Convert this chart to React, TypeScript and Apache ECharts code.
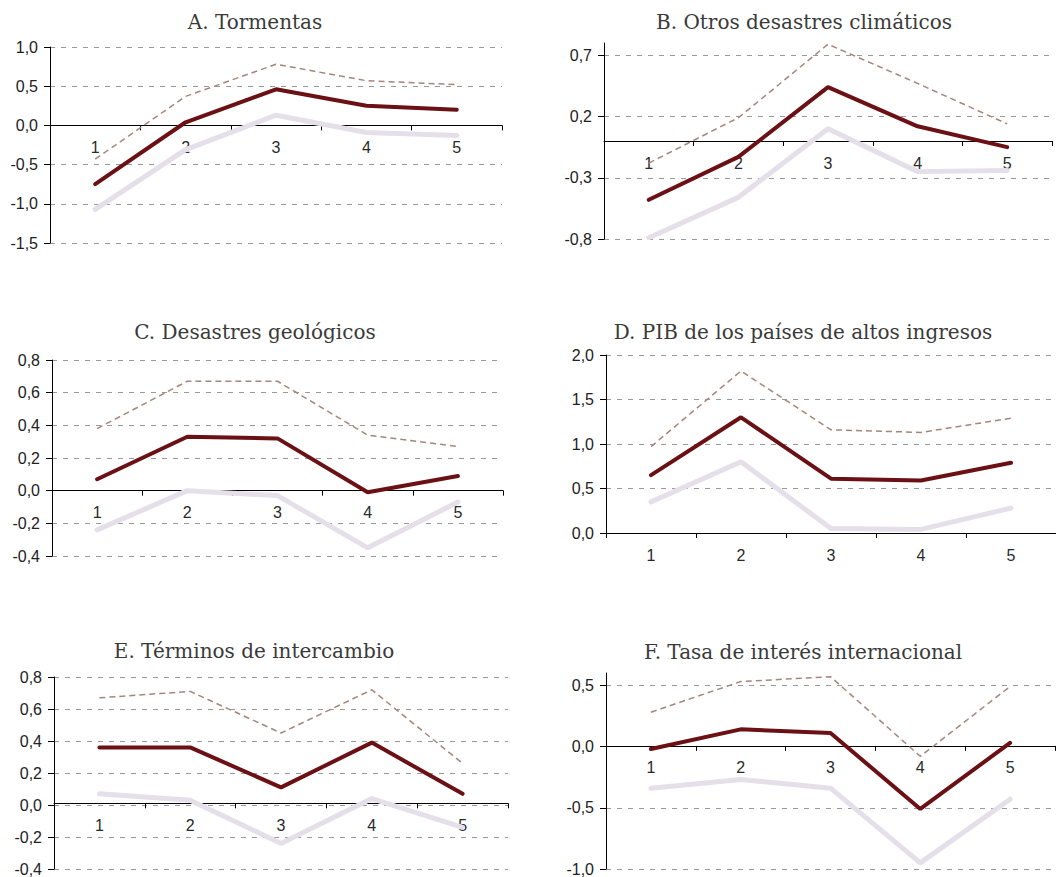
import React, { useEffect, useRef } from "react";
import * as echarts from "echarts";

const categories = ["1", "2", "3", "4", "5"];

const titles = [
  "A. Tormentas",
  "B. Otros desastres climáticos",
  "C. Desastres geológicos",
  "D. PIB de los países de altos ingresos",
  "E. Términos de intercambio",
  "F. Tasa de interés internacional",
];

// point estimates (dark line)
const estA = [-0.75, 0.04, 0.46, 0.25, 0.2];
const estB = [-0.48, -0.13, 0.44, 0.12, -0.05];
const estC = [0.07, 0.33, 0.32, -0.01, 0.09];
const estD = [0.65, 1.3, 0.61, 0.59, 0.79];
const estE = [0.36, 0.36, 0.11, 0.39, 0.07];
const estF = [-0.02, 0.14, 0.11, -0.51, 0.03];

// lower bound (light solid line)
const lowA = [-1.07, -0.31, 0.13, -0.09, -0.13];
const lowB = [-0.79, -0.46, 0.1, -0.25, -0.24];
const lowC = [-0.24, 0.0, -0.03, -0.35, -0.07];
const lowD = [0.35, 0.8, 0.05, 0.04, 0.28];
const lowE = [0.07, 0.03, -0.24, 0.04, -0.14];
const lowF = [-0.34, -0.27, -0.34, -0.95, -0.43];

// upper bound (dashed line)
const upA = [-0.43, 0.37, 0.78, 0.57, 0.52];
const upB = [-0.18, 0.19, 0.79, 0.47, 0.14];
const upC = [0.38, 0.67, 0.67, 0.34, 0.27];
const upD = [0.97, 1.82, 1.16, 1.13, 1.29];
const upE = [0.67, 0.71, 0.45, 0.72, 0.26];
const upF = [0.28, 0.53, 0.57, -0.08, 0.49];

// y axis ranges: [min, max, interval]
const yRanges = [
  [-1.5, 1.0, 0.5],
  [-0.8, 0.8, 0.5],
  [-0.4, 0.8, 0.2],
  [0.0, 2.0, 0.5],
  [-0.4, 0.8, 0.2],
  [-1.0, 0.6, 0.5],
];

const estimates = [estA, estB, estC, estD, estE, estF];
const lowers = [lowA, lowB, lowC, lowD, lowE, lowF];
const uppers = [upA, upB, upC, upD, upE, upF];

// layout (px)
const grids = [
  { left: 50, top: 47, width: 452, height: 196 },
  { left: 604, top: 43, width: 448, height: 196 },
  { left: 52, top: 360, width: 451, height: 196 },
  { left: 606, top: 355, width: 453, height: 178 },
  { left: 54, top: 677, width: 454, height: 197 },
  { left: 606, top: 673, width: 449, height: 197 },
];
const titlePos = [
  [255, 22],
  [804, 22],
  [255, 332],
  [803, 332],
  [254, 651],
  [803, 652],
];

const DARK = "#6B1014";
const LIGHT = "#E5DFE9";
const DASH = "#A5867C";
const LABEL_FONT = "'Liberation Sans', Arial, sans-serif";
const TITLE_FONT = "'DejaVu Serif', serif";

const fmt = (v: number) => v.toFixed(1).replace(".", ",");

export default function App() {
  const ref = useRef<HTMLDivElement>(null);
  useEffect(() => {
    if (!ref.current) return;
    const chart = echarts.init(ref.current, null, { renderer: "svg" });

    const xAxis: any[] = [];
    const yAxis: any[] = [];
    const series: any[] = [];
    const graphic: any[] = [];

    grids.forEach((g, i) => {
      const [mn, mx, iv] = yRanges[i];
      const steps = (mx - mn) / iv;
      const hideMax = Math.abs(steps - Math.round(steps)) > 1e-6;
      // place the category axis (line, ticks, labels) on the zero value
      const zeroOffset = -((0 - mn) / (mx - mn)) * g.height;
      xAxis.push({
        type: "category",
        gridIndex: i,
        data: categories,
        boundaryGap: true,
        position: "bottom",
        offset: zeroOffset,
        axisLine: { show: true, onZero: false, lineStyle: { color: "#000", width: 1 } },
        axisTick: { show: true, length: 5, inside: false, lineStyle: { color: "#000" } },
        axisLabel: { margin: 14, fontSize: 16, color: "#2a2a2a", fontFamily: LABEL_FONT },
        splitLine: { show: false },
        z: 1,
      });
      yAxis.push({
        type: "value",
        gridIndex: i,
        min: mn,
        max: mx,
        interval: iv,
        axisLine: { show: true, lineStyle: { color: "#000", width: 1 } },
        axisTick: { show: true, length: 6, inside: false, lineStyle: { color: "#000" } },
        axisLabel: {
          margin: 12,
          fontSize: 16,
          color: "#222",
          fontFamily: LABEL_FONT,
          formatter: fmt,
          showMaxLabel: !hideMax,
        },
        splitLine: {
          show: true,
          showMaxLine: !hideMax,
          lineStyle: { color: "#999", width: 1, type: [5, 6] },
        },
      });
      series.push({
        type: "line",
        xAxisIndex: i,
        yAxisIndex: i,
        data: uppers[i],
        symbol: "none",
        lineStyle: { color: DASH, width: 1.5, type: [6, 4] },
        z: 3,
      });
      series.push({
        type: "line",
        xAxisIndex: i,
        yAxisIndex: i,
        data: lowers[i],
        symbol: "none",
        lineStyle: { color: LIGHT, width: 5, cap: "round" },
        z: 4,
      });
      series.push({
        type: "line",
        xAxisIndex: i,
        yAxisIndex: i,
        data: estimates[i],
        symbol: "none",
        lineStyle: { color: DARK, width: 4, cap: "round" },
        z: 5,
      });
      graphic.push({
        type: "text",
        x: titlePos[i][0],
        y: titlePos[i][1],
        style: {
          text: titles[i],
          font: `20px ${TITLE_FONT}`,
          fill: "#3a3a3a",
          textAlign: "center",
          textVerticalAlign: "middle",
        },
      });
    });

    chart.setOption({
      animation: false,
      backgroundColor: "#fff",
      grid: grids.map((g) => ({ ...g, containLabel: false })),
      xAxis,
      yAxis,
      series,
      graphic,
    });
    return () => chart.dispose();
  }, []);

  return (
    <div
      ref={ref}
      style={{ position: "absolute", left: 0, top: 0, width: 1056, height: 877, overflow: "hidden" }}
    />
  );
}
